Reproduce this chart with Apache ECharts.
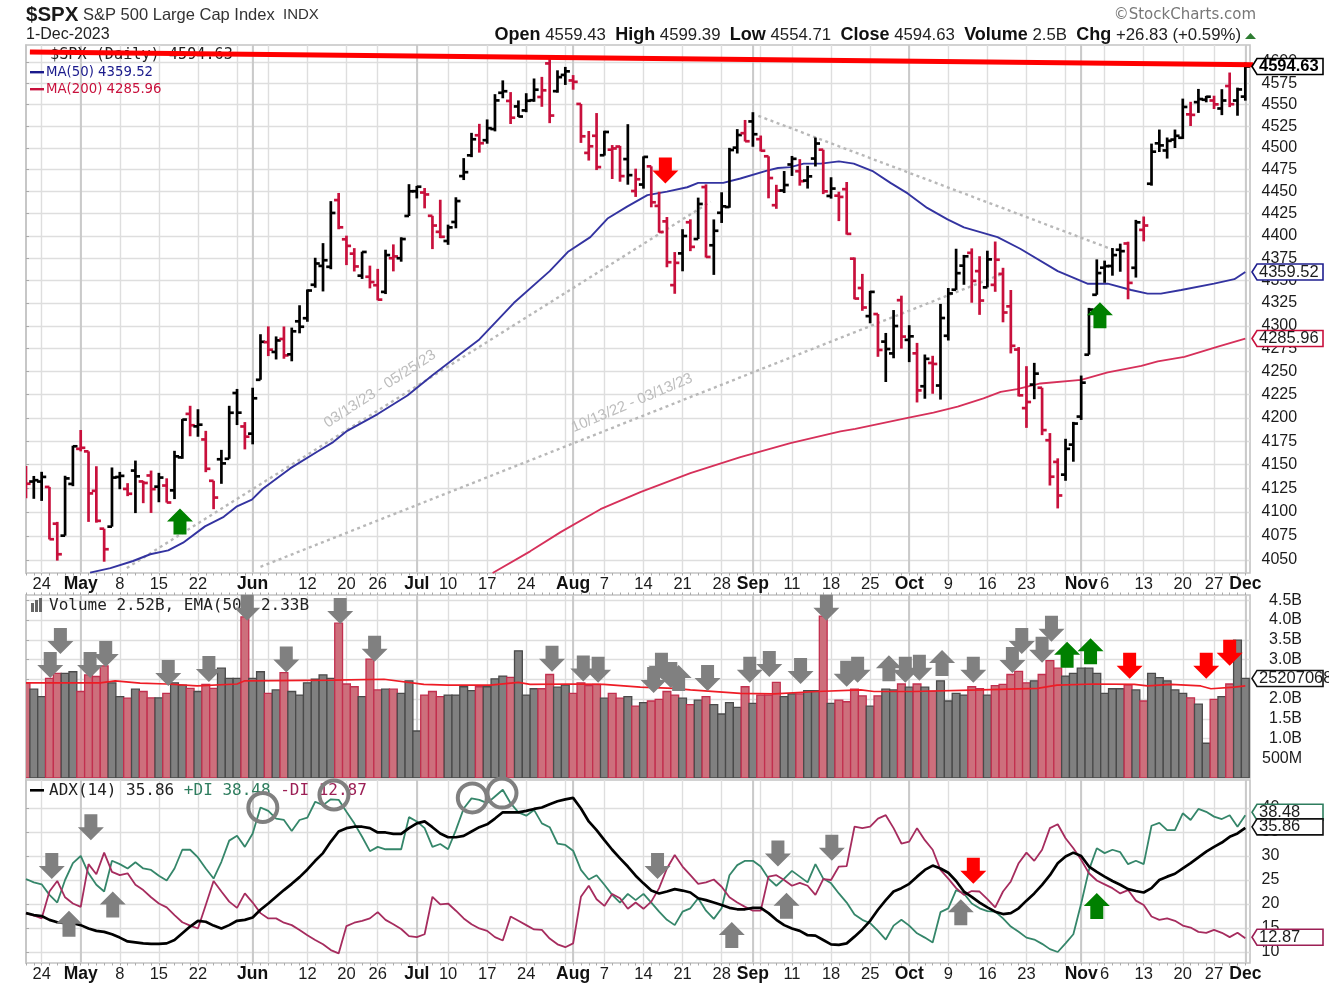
<!DOCTYPE html>
<html><head><meta charset="utf-8"><style>html,body{margin:0;padding:0;background:#fff}#c{width:1329px;height:990px}</style>
<script src="https://cdn.jsdelivr.net/npm/echarts@6/dist/echarts.min.js"></script></head><body><div id="c"></div>
<script>
const opens=[4130.5,4132.1,4132.1,4126.4,4087.8,4075.3,4129.6,4166.8,4164.1,4122.3,4082.6,4084.7,4136.9,4124.3,4143.7,4132.2,4138.5,4126.7,4127.9,4122.8,4157.7,4204.2,4190.8,4176.8,4132.9,4155.7,4156.2,4226.7,4190.7,4183.0,4241.0,4282.0,4271.3,4285.5,4268.7,4304.9,4308.3,4345.3,4366.3,4365.3,4440.4,4396.1,4380.0,4355.4,4354.2,4344.8,4337.4,4374.9,4374.9,4422.4,4450.5,4449.0,4422.6,4404.5,4394.2,4415.6,4467.7,4491.5,4514.6,4508.9,4521.8,4563.9,4554.4,4548.0,4543.4,4555.2,4559.0,4598.3,4565.8,4584.8,4578.3,4550.9,4494.3,4514.0,4491.6,4498.0,4501.6,4487.2,4450.7,4458.1,4478.9,4433.8,4416.3,4344.9,4380.3,4415.3,4396.4,4455.2,4389.4,4426.0,4432.5,4500.3,4517.0,4530.6,4510.1,4490.4,4434.6,4451.3,4481.0,4473.3,4462.6,4487.8,4498.0,4445.1,4445.4,4452.8,4374.4,4341.7,4310.6,4312.9,4282.6,4269.7,4328.2,4284.5,4269.8,4234.0,4259.3,4234.8,4289.0,4339.8,4366.6,4380.9,4360.5,4342.4,4345.2,4357.4,4321.4,4273.9,4210.4,4235.8,4232.4,4176.0,4152.9,4139.4,4171.3,4201.3,4268.3,4334.2,4364.3,4366.2,4384.4,4391.4,4364.2,4406.7,4459.0,4505.3,4497.1,4509.6,4511.7,4538.8,4553.0,4555.8,4554.9,4545.6,4571.8,4554.9,4559.43];
const highs=[4148.6,4138.0,4142.4,4126.4,4089.7,4138.2,4170.1,4186.9,4164.1,4148.3,4082.6,4147.0,4142.3,4130.4,4154.3,4132.8,4143.7,4141.3,4135.5,4164.7,4198.6,4212.9,4209.2,4186.0,4132.9,4165.7,4212.9,4231.1,4195.4,4232.4,4290.7,4299.3,4288.3,4299.2,4298.0,4322.6,4340.1,4375.4,4391.8,4439.2,4448.5,4400.2,4386.2,4382.2,4366.6,4363.0,4384.4,4390.4,4398.4,4458.5,4456.5,4454.1,4422.6,4440.8,4412.6,4443.6,4488.3,4517.4,4527.8,4532.9,4562.3,4578.4,4564.7,4555.0,4563.4,4580.6,4582.5,4607.1,4590.2,4594.2,4584.6,4550.9,4519.5,4540.3,4519.8,4503.3,4502.4,4527.4,4476.2,4490.3,4478.9,4449.9,4421.2,4381.8,4407.5,4418.6,4443.2,4458.3,4418.5,4449.3,4500.1,4521.7,4532.3,4541.3,4514.3,4490.4,4457.8,4473.5,4490.8,4487.1,4479.4,4512.0,4498.0,4466.4,4449.9,4461.0,4375.7,4357.4,4338.5,4313.0,4292.1,4317.3,4333.2,4300.6,4281.2,4268.5,4267.1,4324.1,4341.7,4385.5,4378.6,4385.9,4377.1,4383.3,4393.6,4364.2,4339.5,4276.6,4255.8,4259.4,4232.4,4183.6,4156.7,4177.5,4195.6,4245.6,4319.7,4373.6,4372.2,4386.3,4391.2,4393.4,4418.0,4421.8,4505.0,4521.2,4512.0,4521.2,4557.1,4553.4,4568.4,4560.3,4560.5,4568.1,4587.6,4569.9,4599.39];
const lows=[4114.6,4113.9,4111.7,4071.4,4049.4,4075.3,4127.2,4164.1,4089.7,4088.9,4048.3,4084.7,4124.0,4116.7,4098.9,4109.3,4099.1,4110.3,4109.9,4113.6,4156.2,4180.2,4179.7,4142.0,4103.0,4129.7,4156.2,4192.2,4166.2,4171.6,4241.0,4266.8,4263.1,4263.9,4261.1,4291.7,4304.4,4342.0,4337.9,4362.6,4407.4,4367.2,4360.1,4351.8,4341.3,4328.1,4335.0,4360.2,4371.0,4422.4,4442.3,4431.0,4385.1,4397.4,4389.9,4408.5,4463.2,4489.4,4494.6,4504.9,4519.1,4557.5,4527.6,4535.8,4541.3,4553.4,4547.6,4528.6,4564.0,4573.1,4567.5,4505.8,4485.5,4474.6,4491.2,4464.4,4461.3,4457.9,4444.0,4453.4,4432.2,4403.6,4364.8,4335.3,4360.3,4382.8,4396.4,4375.6,4356.3,4414.5,4431.7,4493.6,4507.4,4501.4,4496.0,4442.4,4430.5,4448.4,4467.9,4456.8,4453.5,4478.7,4447.2,4442.1,4416.6,4401.4,4329.2,4316.5,4302.7,4266.0,4238.6,4264.4,4274.9,4260.2,4216.5,4220.5,4225.9,4219.6,4283.8,4339.6,4345.3,4325.4,4312.0,4342.4,4337.5,4303.8,4269.7,4223.0,4189.2,4220.0,4181.4,4127.9,4103.8,4132.9,4153.1,4197.7,4268.3,4334.2,4347.5,4355.4,4359.8,4329.2,4353.3,4393.8,4456.8,4495.3,4487.8,4499.9,4510.4,4525.3,4540.5,4552.8,4545.0,4537.9,4547.2,4537.2,4554.71];
const closes=[4129.8,4133.5,4137.0,4071.6,4056.0,4135.4,4169.5,4167.9,4119.6,4090.8,4061.2,4136.3,4138.1,4119.2,4137.6,4130.6,4124.1,4136.3,4110.0,4158.8,4198.1,4192.0,4192.6,4145.6,4115.2,4151.3,4205.4,4205.5,4179.8,4221.0,4282.4,4273.8,4283.9,4267.5,4293.9,4298.9,4338.9,4369.0,4372.6,4425.8,4409.6,4388.7,4365.7,4381.9,4348.3,4328.8,4378.4,4376.9,4396.4,4450.4,4455.6,4446.8,4411.6,4398.9,4409.5,4439.3,4472.2,4510.0,4505.4,4522.8,4555.0,4565.7,4534.9,4536.3,4554.6,4567.5,4566.8,4537.4,4582.2,4589.0,4576.7,4513.4,4501.9,4478.0,4518.4,4499.4,4467.7,4468.8,4464.1,4489.7,4437.9,4404.3,4370.4,4369.7,4399.8,4387.6,4436.0,4376.3,4405.7,4433.3,4497.6,4514.9,4507.7,4515.8,4496.8,4465.5,4451.1,4457.5,4487.5,4461.9,4467.4,4505.1,4450.3,4453.5,4444.0,4402.2,4330.0,4320.1,4337.4,4273.5,4274.5,4299.7,4288.1,4288.4,4229.5,4263.8,4258.2,4308.5,4335.7,4358.2,4377.0,4349.6,4327.8,4373.6,4373.2,4314.6,4278.0,4224.2,4217.0,4247.7,4186.8,4137.2,4117.4,4166.8,4193.8,4237.9,4317.8,4358.3,4366.0,4378.4,4382.8,4347.4,4415.2,4411.6,4495.7,4502.9,4508.2,4514.0,4547.4,4538.2,4556.6,4559.3,4550.4,4554.9,4550.6,4567.8,4594.63];
const volumes=[2.41,2.25,2.06,2.52,2.65,2.65,2.69,2.19,2.61,2.57,2.84,2.41,2.06,2.02,2.25,2.19,2.03,2.03,2.14,2.41,2.35,2.27,2.19,2.37,2.27,2.78,2.52,2.52,4.08,2.52,2.69,2.14,2.23,2.67,2.19,2.10,2.41,2.50,2.61,2.52,3.92,2.38,2.31,2.06,3.01,2.23,2.25,2.25,2.14,2.46,1.19,2.10,2.19,2.06,2.10,2.10,2.31,2.21,2.31,2.31,2.51,2.58,2.55,3.22,2.10,2.26,2.26,2.62,2.30,2.35,2.14,2.41,2.34,2.37,2.02,2.14,2.02,2.06,1.82,1.91,1.95,1.99,2.19,2.10,2.02,1.86,1.97,2.06,1.86,1.62,1.91,1.79,2.31,1.89,2.10,2.10,2.42,2.06,2.13,2.13,2.21,2.21,4.10,1.89,1.97,1.93,2.25,2.08,1.82,2.08,2.25,2.23,2.38,2.30,2.38,2.30,2.20,2.46,1.95,2.14,2.10,2.31,2.26,2.10,2.34,2.37,2.62,2.70,2.41,2.46,2.62,2.97,2.78,2.58,2.65,2.78,2.78,2.65,2.14,2.26,2.26,2.36,2.23,1.95,2.65,2.54,2.46,2.23,2.14,2.03,1.87,0.88,1.99,2.06,2.38,3.49,2.52];
const adx=[18.1,17.7,17.5,16.7,16.2,16.0,16.0,15.6,14.9,14.4,14.2,13.7,13.0,12.2,12.0,11.8,11.7,11.7,11.8,12.5,13.9,15.3,16.5,16.3,15.5,14.9,15.6,16.5,16.7,17.2,18.8,20.1,21.5,22.9,24.2,25.6,27.2,29.0,30.6,33.0,35.1,35.8,36.1,36.1,35.8,34.9,34.9,34.6,34.6,35.8,36.8,37.2,36.0,34.7,33.9,33.9,34.2,35.1,36.0,36.6,37.8,39.1,39.1,39.1,39.4,39.8,40.1,40.8,41.4,41.8,42.1,39.9,37.2,35.4,33.3,31.3,29.5,27.8,25.9,24.3,22.8,22.2,22.6,23.1,22.8,22.4,21.2,20.8,20.3,19.8,19.2,18.9,18.9,19.2,19.2,18.1,16.7,15.6,14.9,14.4,13.5,13.4,12.5,11.6,11.5,11.8,13.2,14.7,16.5,18.8,20.8,22.6,23.3,24.2,25.7,27.1,28.0,27.4,26.5,24.8,22.6,21.5,20.3,19.3,18.4,17.9,18.1,19.1,20.7,22.2,24.0,26.0,28.5,29.9,30.7,30.0,27.8,26.7,25.7,24.8,24.0,23.1,22.7,22.4,23.3,25.0,25.7,26.3,27.4,28.5,29.7,30.9,31.9,32.8,34.0,34.7,35.86];
const plusDI=[25.2,24.5,24.1,21.9,20.3,25.0,28.5,30.0,26.4,24.0,22.6,29.0,28.3,27.4,28.7,27.4,27.1,25.9,24.9,27.4,31.3,31.3,29.7,27.4,25.3,28.8,33.2,34.2,31.9,34.7,40.1,39.4,37.8,37.5,35.2,37.5,38.0,41.3,40.6,41.8,41.7,39.2,36.8,34.0,31.0,31.9,31.4,31.4,31.4,38.1,37.2,35.8,31.9,32.5,31.4,35.4,39.9,42.0,41.7,41.0,42.4,43.8,41.0,39.1,38.4,39.6,36.8,36.0,32.6,32.3,31.1,27.1,25.1,26.0,24.0,21.9,20.3,22.1,20.8,22.1,20.3,18.4,16.7,15.6,18.4,19.1,21.2,18.6,16.9,19.1,26.0,28.1,29.0,29.0,27.8,25.3,23.8,25.3,26.9,25.7,24.5,28.3,25.3,24.3,22.2,20.3,17.8,16.7,16.0,14.4,12.6,15.5,16.7,15.5,13.9,13.0,12.0,18.3,19.1,22.9,22.2,20.1,19.1,18.5,18.4,17.0,15.3,14.2,13.0,12.6,11.7,10.6,10.0,11.8,13.7,20.1,27.1,31.6,30.6,31.3,30.8,28.3,29.0,28.3,36.3,36.9,35.4,35.4,38.9,37.5,39.8,39.2,38.2,37.7,38.5,36.1,38.48];
const minusDI=[18.1,17.6,17.0,22.6,24.8,21.4,20.1,19.4,28.3,26.2,30.7,26.7,26.0,26.4,24.0,22.9,21.4,20.1,19.3,17.7,16.2,15.5,14.9,19.8,24.8,22.6,20.5,19.2,22.2,20.3,18.1,17.0,17.0,16.1,15.6,14.6,13.5,12.5,11.6,10.4,9.7,15.4,16.1,16.5,17.0,18.3,16.7,15.8,14.8,13.3,13.1,13.7,21.5,19.9,20.1,18.6,17.0,15.8,14.9,14.4,13.1,12.4,17.4,16.5,15.6,14.7,14.6,12.8,11.6,11.0,11.8,21.5,23.8,21.0,19.6,22.1,21.2,19.0,20.3,19.0,20.5,23.3,27.4,30.2,27.8,26.0,24.2,24.5,25.1,23.6,21.4,20.3,19.4,18.6,18.6,25.7,26.0,25.0,23.8,24.4,23.8,21.9,25.2,25.0,27.8,27.9,36.1,35.8,36.1,37.8,38.5,35.8,32.6,33.0,35.8,33.3,31.3,27.1,25.3,23.3,21.9,22.7,22.6,21.0,19.3,22.6,24.7,28.5,30.7,29.0,31.3,35.8,36.6,33.7,31.6,29.2,26.4,24.9,24.1,23.3,22.2,22.9,20.7,19.8,17.4,16.7,17.0,16.5,15.5,15.1,14.2,14.0,14.6,14.0,13.1,14.0,12.87];
const ma50Idx=[8.2,10.8,13.7,15.9,18.2,20.1,22.9,25.3,27,28.9,30.3,33.8,37.3,39.3,41.1,45,48.8,52,54,58,62.4,67,69.4,72.2,74.4,76.9,79.5,82,84.6,86,89.2,91.4,94.8,96.2,97.8,99.5,101.7,104,105.9,108.4,110.6,112.8,115.3,117.9,120,124.3,127.2,132,135.8,138.4,141.4,143.5,145.2,147.8,152,154.6,156];
const ma50Val=[4037,4041.6,4049,4056,4060,4068,4085,4095,4106,4113,4124.5,4146,4164,4174,4186,4204,4224,4246,4259,4285,4325,4360.5,4382.5,4398.5,4419.5,4433,4446,4450,4455,4460,4460,4465,4474,4477,4478,4482,4482,4484.5,4482,4473,4460,4448,4431.5,4418.5,4409.5,4398.5,4385.5,4360.5,4346.5,4346.5,4339.5,4335.5,4335.5,4339.5,4346.5,4351.5,4359.52];
const ma200Idx=[59.7,64.5,68.4,73.5,78.6,85,91.4,97.8,104.2,106.1,112.8,116.1,119.2,122.5,124.7,126.8,129.8,135,138.4,142.7,144.8,148.2,152.5,156];
const ma200Val=[4036.6,4059,4079,4103,4121,4141,4158,4173,4185.5,4188,4200,4205.5,4212,4221,4228,4231,4237,4241,4249,4256,4261,4266,4277,4285.96];
const emaIdx=[0,9.5,11.4,14.6,18,21.9,27,28,39.4,45.8,50.9,54,59.4,63,64.5,70.1,73.9,78.6,82.9,85,91.4,95.7,101.2,106.8,108.5,113.6,122.2,129.4,131.9,136.7,141.8,143.5,146.5,150.3,151.6,154.6,156];
const emaVal=[2.41,2.41,2.46,2.40,2.38,2.33,2.38,2.46,2.48,2.50,2.37,2.35,2.35,2.42,2.37,2.38,2.37,2.30,2.27,2.23,2.14,2.13,2.19,2.23,2.19,2.19,2.23,2.27,2.35,2.38,2.37,2.33,2.37,2.33,2.26,2.30,2.33];
const redLine=[[0.5,4611.8],[157.6,4596.8]];
const trendLines=[[[12.9,4041.7],[87.6,4438.6]],[[30,4043],[125.1,4358]],[[93.7,4537],[139.2,4384]]];
const weekTicks=[2,7,12,17,22,27,29,31,36,41,45,50,54,59,64,69,70,74,79,84,89,93,94,98,103,108,113,118,123,128,133,135,138,143,148,152,156];
const monthTicks=[7,29,50,70,93,113,135,156];
const labelIdx=[2,7,12,17,22,29,36,41,45,50,54,59,64,70,74,79,84,89,93,98,103,108,113,118,123,128,135,138,143,148,152,156];
const labelTxt=['24','May','8','15','22','Jun','12','20','26','Jul','10','17','24','Aug','7','14','21','28','Sep','11','18','25','Oct','9','16','23','Nov','6','13','20','27','Dec'];
const priceTicks=[4050,4075,4100,4125,4150,4175,4200,4225,4250,4275,4300,4325,4350,4375,4400,4425,4450,4475,4500,4525,4550,4575,4600];
const volTicks=[0.5,1,1.5,2,2.5,3,3.5,4,4.5];
const adxTicks=[10,15,20,25,30,35,40];
// annotation arrows: [bar index, tip value, direction (1 up, -1 down), colour slot]
const mainArrows=[[19.7,4103.7,1,1],[81.8,4459.3,-1,2],[137.4,4326,1,1]];
const volArrows=[[3.1,2.53,-1,0],[4.4,3.14,-1,0],[8.2,2.53,-1,0],[10.2,2.81,-1,0],[18.2,2.33,-1,0],[23.4,2.43,-1,0],[28.3,3.98,-1,0],[40.2,3.90,-1,0],[33.3,2.67,-1,0],[44.6,2.94,-1,0],[67.3,2.69,-1,0],[71.3,2.44,-1,0],[73.2,2.41,-1,0],[80.3,2.15,-1,0],[81.3,2.51,-1,0],[82.5,2.28,-1,0],[83.5,2.86,1,0],[87.2,2.20,-1,0],[92.6,2.41,-1,0],[95.1,2.56,-1,0],[99.1,2.38,-1,0],[102.4,3.98,-1,0],[105,2.31,-1,0],[106.4,2.41,-1,0],[110.4,3.11,1,0],[112.5,2.41,-1,0],[114.3,2.46,-1,0],[117.2,3.24,1,0],[121.2,2.41,-1,0],[126.2,2.66,-1,0],[127.4,3.14,-1,0],[130,2.92,-1,0],[131.2,3.45,-1,0],[133.2,3.45,1,1],[136.2,3.54,1,1],[141.2,2.51,-1,2],[151,2.51,-1,2],[154,2.84,-1,2]];
const adxArrows=[[3.3,25.2,-1,0],[8.3,33.3,-1,0],[5.5,18.6,1,0],[11.1,22.6,1,0],[80.8,25.2,-1,0],[96.2,27.8,-1,0],[103.1,29.0,-1,0],[90.3,16.25,1,0],[97.3,22.35,1,0],[119.6,21.0,1,0],[121.2,24.2,-1,2],[137,22.3,1,1]];
const adxRings=[[30.3,40.1],[39.4,42.7],[57.1,42.1],[60.9,43.1]];
const mainTags=[[4594.63,'4594.63','#000',true,0],[4359.52,'4359.52','#1f1f8f',false,0],[4285.96,'4285.96','#c8103c',false,0]];
const volTags=[[2.5207,'2520706800','#111',false,0]];
const adxTags=[[38.48,'38.48','#2e7d5e',false,-3],[35.86,'35.86','#111',false,-1],[12.87,'12.87','#9c1f55',false,-1]];

const XMIN=0,XMAX=156.6;
const FONT='"Liberation Sans",Arial,sans-serif';
const RED='#c8103c',MA50C='#3333a0',MA200C='#d6305a',GRID='#dedede',MONTH='#c8c8c8',FRAME='#c4c4c4',TXT='#1c1c1c';
const isDown=i=>i===0||closes[i]<closes[i-1];
const labelMap=Object.fromEntries(labelIdx.map((k,j)=>[k,labelTxt[j]]));
const barTicks=opens.map((_,i)=>i);

function xAxes(g,showLabels,tickTop){
  const base={type:'value',gridIndex:g,min:XMIN,max:XMAX,position:'bottom'};
  return [
   {...base,axisLine:{show:false},
    axisTick:{show:false,customValues:weekTicks},
    splitLine:{show:true,lineStyle:{color:GRID,width:1.4}},
    axisLabel:{show:showLabels,customValues:labelIdx,margin:showLabels?2.5:0,color:TXT,fontFamily:FONT,fontSize:16.5,
      formatter:v=>{const s=labelMap[v]||'';return /[A-Z]/.test(s)?'{m|'+s+'}':s;},
      rich:{m:{fontFamily:FONT,fontWeight:'bold',fontSize:17.5,color:'#111'}}}},
   {...base,axisLine:{show:false},axisLabel:{show:false},
    axisTick:{show:false,customValues:monthTicks},
    splitLine:{show:true,lineStyle:{color:MONTH,width:1.8}}},
   {...base,position:tickTop?'top':'bottom',axisLine:{show:false},axisLabel:{show:false},splitLine:{show:false},
    axisTick:{show:true,customValues:barTicks,length:2.5,lineStyle:{color:'#aaa',width:1}}}
  ];
}
function yAxis(g,extra){
  return {gridIndex:g,position:'right',axisLine:{show:true,lineStyle:{color:FRAME,width:1.5}},
    axisTick:{show:true,length:3,lineStyle:{color:'#aaa'}},
    splitLine:{show:true,lineStyle:{color:GRID,width:1.4}},...extra};
}
const labelStyle={color:TXT,fontFamily:FONT,fontSize:16,margin:11.5};

function renderOHLC(p,api){
  const i=api.value(0),c=a=>api.coord([i,a]);
  const o=c(api.value(1)),h=c(api.value(2)),l=c(api.value(3)),cl=c(api.value(4));
  const stroke=api.value(5)?RED:'#000',s={stroke,lineWidth:2.7,fill:null};
  return {type:'group',children:[
    {type:'line',shape:{x1:h[0],y1:h[1],x2:l[0],y2:l[1]},style:s},
    {type:'line',shape:{x1:o[0]-4.6,y1:o[1],x2:o[0],y2:o[1]},style:s},
    {type:'line',shape:{x1:cl[0],y1:cl[1],x2:cl[0]+4.6,y2:cl[1]},style:s}]};
}
function renderVol(p,api){
  const i=api.value(0),t=api.coord([i,api.value(1)]),b=api.coord([i,0]),size=api.size([1,0])[0];
  const down=api.value(2);
  return {type:'rect',shape:{x:t[0]-size/2,y:t[1],width:size,height:b[1]-t[1]},
    style:{fill:down?'#cd6f7c':'#808080',stroke:down?'#c22f4e':'#4a4a4a',lineWidth:1.3}};
}
const ARROWC=['#808080','#008000','#ff0000'];
function renderArrow(p,api){
  const t=api.coord([api.value(0),api.value(1)]),d=api.value(2);
  const x=t[0],y=t[1],H=13*d,L=26*d;
  const pts=[[x,y],[x+13,y+H],[x+6.5,y+H],[x+6.5,y+L],[x-6.5,y+L],[x-6.5,y+H],[x-13,y+H]];
  return {type:'polygon',shape:{points:pts},style:{fill:ARROWC[api.value(3)],stroke:null}};
}
function renderRing(p,api){
  const t=api.coord([api.value(0),api.value(1)]);
  return {type:'circle',shape:{cx:t[0],cy:t[1],r:14.5},style:{fill:null,stroke:'#808080',lineWidth:4}};
}
function tagRender(list){
  return function(p,api){
    const row=list[p.dataIndex],pt=api.coord([XMAX,row[0]]);
    const x=pt[0]+2,y=pt[1]+row[4],col=row[2];
    return {type:'group',children:[
      {type:'polygon',shape:{points:[[x,y],[x+5,y-8],[x+71,y-8],[x+71,y+8],[x+5,y+8]]},style:{fill:'#fff',stroke:col,lineWidth:1.6}},
      {type:'text',style:{text:row[1],x:x+7,y:y,fill:row[3]?'#000':'#1c1c1c',font:(row[3]?'bold 16.5px ':'16.5px ')+FONT,textVerticalAlign:'middle',textAlign:'left'}}]};
  };
}
const lineS=(x,y,d,c,w,extra)=>({type:'line',xAxisIndex:x,yAxisIndex:y,data:d,symbol:'none',smooth:false,clip:true,silent:true,lineStyle:{color:c,width:w},z:3,...extra});
const zip=(a,b)=>a.map((v,i)=>[v,b[i]]);
const byBar=a=>a.map((v,i)=>[i,v]);
const arrowS=(x,y,d)=>({type:'custom',xAxisIndex:x,yAxisIndex:y,data:d,renderItem:renderArrow,clip:false,silent:true,z:6,encode:{x:0,y:1}});
const tagS=(x,y,list)=>({type:'custom',xAxisIndex:x,yAxisIndex:y,data:list.map(r=>[XMAX,r[0]]),renderItem:tagRender(list),clip:false,silent:true,z:9,encode:{x:0,y:1}});

const series=[
  ...trendLines.map(t=>lineS(0,0,t,'#b8b8b8',2.4,{lineStyle:{color:'#b8b8b8',width:2.4,type:[3,3.5]},z:2})),
  lineS(0,0,zip(ma50Idx,ma50Val),MA50C,1.9),
  lineS(0,0,zip(ma200Idx,ma200Val),MA200C,1.8),
  {type:'custom',xAxisIndex:0,yAxisIndex:0,clip:true,silent:true,z:4,renderItem:renderOHLC,
   data:opens.map((o,i)=>[i,o,highs[i],lows[i],closes[i],isDown(i)?1:0]),encode:{x:0,y:[1,2,3,4]}},
  lineS(0,0,redLine,'#ff0000',5,{clip:false,z:8}),
  arrowS(0,0,mainArrows),tagS(0,0,mainTags),
  {type:'custom',xAxisIndex:3,yAxisIndex:1,clip:true,silent:true,z:2,renderItem:renderVol,
   data:volumes.map((v,i)=>[i,v,isDown(i)?1:0]),encode:{x:0,y:1}},
  lineS(3,1,zip(emaIdx,emaVal),'#ee1c25',1.7,{z:4}),
  arrowS(3,1,volArrows),tagS(3,1,volTags),
  lineS(6,2,byBar(plusDI),'#35866a',1.8),
  lineS(6,2,byBar(minusDI),'#a62c5e',1.8),
  lineS(6,2,byBar(adx),'#000',2.7,{z:4}),
  arrowS(6,2,adxArrows),
  {type:'custom',xAxisIndex:6,yAxisIndex:2,data:adxRings,renderItem:renderRing,clip:false,silent:true,z:7,encode:{x:0,y:1}},
  tagS(6,2,adxTags)
];

const tx=(x,y,text,font,fill,extra)=>({type:'text',x,y,z:1,style:{text,font:font+' '+FONT,fill,textVerticalAlign:'middle',...extra}});
const mono='"DejaVu Sans Mono",monospace', dj='"DejaVu Sans",sans-serif';
const tmono=(x,y,t,rich)=>({type:'text',x,y,z:1,style:{text:t,font:'16px '+mono,fill:'#222',textVerticalAlign:'middle',rich}});
const graphic=[
  tx(26,15,'$SPX','bold 20.5px','#1a1a1a'),
  tx(83,15,'S&P 500 Large Cap Index','16.5px','#333'),
  tx(283,15,'INDX','15px','#333'),
  tx(26,35,'1-Dec-2023','16px','#222'),
  {type:'text',x:1241,y:35,z:1,style:{text:'{b|Open} 4559.43  {b|High} 4599.39  {b|Low} 4554.71  {b|Close} 4594.63  {b|Volume} 2.5B  {b|Chg} +26.83 (+0.59%)',font:'16.8px '+FONT,fill:'#222',textAlign:'right',textVerticalAlign:'middle',rich:{b:{font:'bold 18px '+FONT,fill:'#111'}}}},
  {type:'polygon',z:1,shape:{points:[[1245,39],[1256,39],[1250.5,33]]},style:{fill:'#2e7d32'}},
  {type:'text',x:1256,y:15,z:1,style:{text:'©StockCharts.com',font:'15px '+dj,fill:'#777',textAlign:'right',textVerticalAlign:'middle'}},
  {type:'text',x:50,y:55,z:1,style:{text:'$SPX (Daily) 4594.63',font:'15.2px '+mono,fill:'#222',textVerticalAlign:'middle'}},
  {type:'text',x:46,y:73,z:1,style:{text:'MA(50) 4359.52',font:'13.3px '+dj,fill:'#1a1a8c',textVerticalAlign:'middle'}},
  {type:'text',x:46,y:90,z:1,style:{text:'MA(200) 4285.96',font:'13.3px '+dj,fill:'#c8103c',textVerticalAlign:'middle'}},
  {type:'rect',z:1,shape:{x:30,y:71,width:14,height:2.4},style:{fill:'#1a1a8c'}},
  {type:'rect',z:1,shape:{x:30,y:88,width:14,height:2.4},style:{fill:'#c8103c'}},
  {type:'rect',z:1,shape:{x:31,y:52,width:12,height:2},style:{fill:'#333'}},
  {type:'rect',z:1,shape:{x:31,y:603,width:3,height:9},style:{fill:'#666'}},
  {type:'rect',z:1,shape:{x:35,y:600,width:3,height:12},style:{fill:'#666'}},
  {type:'rect',z:1,shape:{x:39,y:598,width:3,height:14},style:{fill:'#666'}},
  tmono(49,606,'Volume 2.52B, EMA(50) 2.33B'),
  {type:'rect',z:1,shape:{x:30,y:789,width:14,height:2.6},style:{fill:'#000'}},
  tmono(49,791,'ADX(14) 35.86 {g|+DI 38.48} {r|-DI 12.87}',{g:{font:'16px '+mono,fill:'#2e7d5e'},r:{font:'16px '+mono,fill:'#9c1f55'}}),
  {type:'text',x:380,y:389,z:1,rotation:33*Math.PI/180,style:{text:'03/13/23 - 05/25/23',font:'15px '+FONT,fill:'#bdbdbd',textAlign:'center',textVerticalAlign:'middle'}},
  {type:'text',x:632,y:403,z:1,rotation:23*Math.PI/180,style:{text:'10/13/22 - 03/13/23',font:'15px '+FONT,fill:'#bdbdbd',textAlign:'center',textVerticalAlign:'middle'}}
];
const gridBox=(top,height)=>({left:26,top,width:1224,height,show:true,backgroundColor:'#fff',borderColor:FRAME,borderWidth:1.6});
const option={
  animation:false,backgroundColor:'#fff',
  grid:[gridBox(45,528),gridBox(595,183),gridBox(780,183)],
  xAxis:[...xAxes(0,true,false),...xAxes(1,false,true),...xAxes(2,true,false)],
  yAxis:[
   yAxis(0,{type:'log',min:4036.6,max:4620,logBase:10,axisLabel:{...labelStyle,customValues:priceTicks,formatter:v=>String(Math.round(v))},axisTick:{show:true,length:3,customValues:priceTicks,lineStyle:{color:'#aaa'}}}),
   yAxis(1,{type:'value',min:0,max:4.633,axisLabel:{...labelStyle,margin:52,align:'right',customValues:volTicks,formatter:v=>v<1?Math.round(v*1000)+'M':v.toFixed(1)+'B'},axisTick:{show:true,length:3,customValues:volTicks,lineStyle:{color:'#aaa'}}}),
   yAxis(2,{type:'value',min:7.71,max:45.83,axisLabel:{...labelStyle,customValues:adxTicks},axisTick:{show:true,length:3,customValues:adxTicks,lineStyle:{color:'#aaa'}}})
  ],
  series,graphic
};
echarts.init(document.getElementById('c'),null,{renderer:'canvas'}).setOption(option);
</script></body></html>
